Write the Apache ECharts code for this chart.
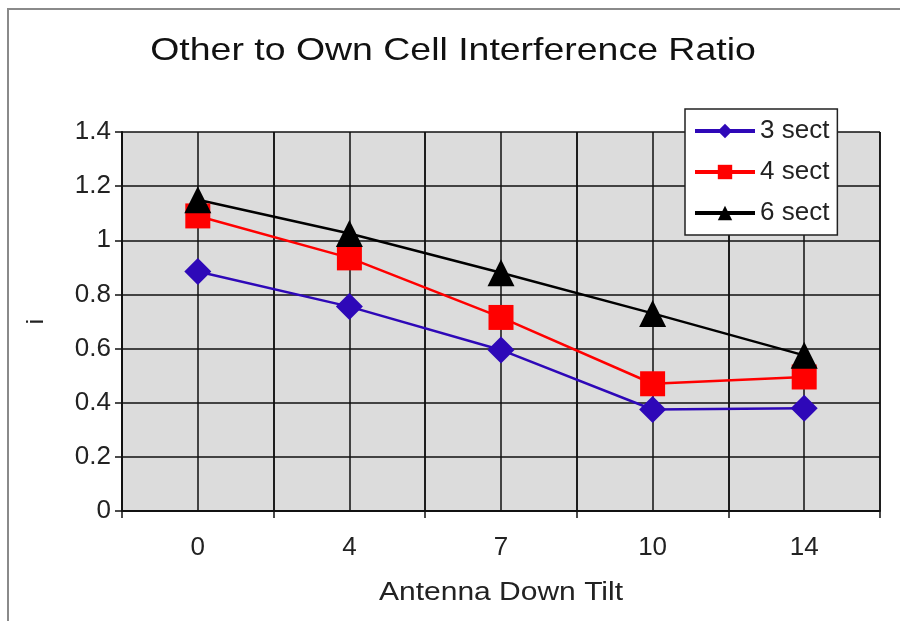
<!DOCTYPE html>
<html>
<head>
<meta charset="utf-8">
<script src="https://cdn.jsdelivr.net/npm/echarts@6/dist/echarts.min.js"></script>
<style>
html,body{margin:0;padding:0;background:#fff;}
#chart{width:900px;height:621px;}
</style>
</head>
<body>
<div id="chart"></div>
<script>
// 数据
var tilts = ['0', '4', '7', '10', '14'];
var sect3 = [0.885, 0.755, 0.595, 0.375, 0.38];
var sect4 = [1.09, 0.935, 0.715, 0.47, 0.495];
var sect6 = [1.15, 1.025, 0.88, 0.73, 0.575];
var halfSteps = ['', '', '', '', '', '', '', '', '', '', ''];

var fontName = 'Liberation Sans, Arial, sans-serif';

var myChart = echarts.init(document.getElementById('chart'));
myChart.setOption({
	backgroundColor : '#fff',
	animation : false,
	graphic : [ {
		type : 'polyline',
		shape : { points : [ [ 8, 621 ], [ 8, 9 ], [ 900, 9 ] ] },
		style : { stroke : '#8a8a8a', lineWidth : 2, fill : null }
	}, {
		// 标题（横向拉宽）
		type : 'text',
		x : 453,
		y : 51,
		scaleX : 1.17,
		style : {
			text : 'Other to Own Cell Interference Ratio',
			x : 0,
			y : 0,
			align : 'center',
			verticalAlign : 'middle',
			font : '32px ' + fontName,
			fill : '#111'
		}
	}, {
		type : 'text',
		x : 501,
		y : 593,
		scaleX : 1.2,
		style : {
			text : 'Antenna Down Tilt',
			x : 0,
			y : 0,
			align : 'center',
			verticalAlign : 'middle',
			font : '25px ' + fontName,
			fill : '#222'
		}
	} ],
	legend : {
		orient : 'vertical',
		left : 685,
		top : 109,
		backgroundColor : '#fff',
		borderColor : '#222',
		borderWidth : 1.5,
		borderRadius : 0,
		padding : [ 9, 8, 9, 8 ],
		itemWidth : 60,
		itemHeight : 18,
		itemGap : 15,
		lineStyle : { width : 4 },
		textStyle : {
			fontFamily : fontName,
			fontSize : 26,
			lineHeight : 26,
			color : '#222'
		},
		data : [ '3 sect', '4 sect', '6 sect' ]
	},
	grid : {
		left : 122,
		right : 20,
		top : 132,
		bottom : 110,
		show : true,
		backgroundColor : '#dcdcdc',
		borderWidth : 0
	},
	xAxis : [ {
		type : 'category',
		data : tilts,
		boundaryGap : true,
		axisLine : { lineStyle : { color : '#111', width : 2 } },
		axisTick : { show : true, length : 7, lineStyle : { color : '#111', width : 1.5 } },
		axisLabel : { fontFamily : fontName, fontSize : 26, color : '#222', margin : 24 },
		splitLine : { show : true, lineStyle : { color : '#111', width : 1.5 } }
	}, {
		// 半格竖线
		type : 'category',
		data : halfSteps,
		boundaryGap : false,
		position : 'top',
		axisLine : { show : false },
		axisTick : { show : false },
		axisLabel : { show : false },
		splitLine : { show : true, lineStyle : { color : '#111', width : 1.5 } }
	} ],
	yAxis : {
		type : 'value',
		min : 0,
		max : 1.4,
		interval : 0.2,
		name : 'i',
		nameLocation : 'middle',
		nameRotate : 90,
		nameGap : 74,
		nameTextStyle : { fontFamily : fontName, fontSize : 24, color : '#222' },
		axisLine : { show : true, lineStyle : { color : '#111', width : 2 } },
		axisTick : { show : true, length : 7, lineStyle : { color : '#111', width : 1.5 } },
		axisLabel : { fontFamily : fontName, fontSize : 26, color : '#222', margin : 11 },
		splitLine : { show : true, lineStyle : { color : '#111', width : 1.5 } }
	},
	series : [ {
		name : '3 sect',
		type : 'line',
		data : sect3,
		symbol : 'diamond',
		symbolSize : 27,
		itemStyle : { color : '#2e08b8' },
		lineStyle : { color : '#2e08b8', width : 2.5 }
	}, {
		name : '4 sect',
		type : 'line',
		data : sect4,
		symbol : 'rect',
		symbolSize : 25,
		itemStyle : { color : '#ff0000' },
		lineStyle : { color : '#ff0000', width : 2.5 }
	}, {
		name : '6 sect',
		type : 'line',
		data : sect6,
		symbol : 'triangle',
		symbolSize : 27,
		itemStyle : { color : '#000' },
		lineStyle : { color : '#000', width : 2.5 }
	} ]
});
</script>
</body>
</html>
